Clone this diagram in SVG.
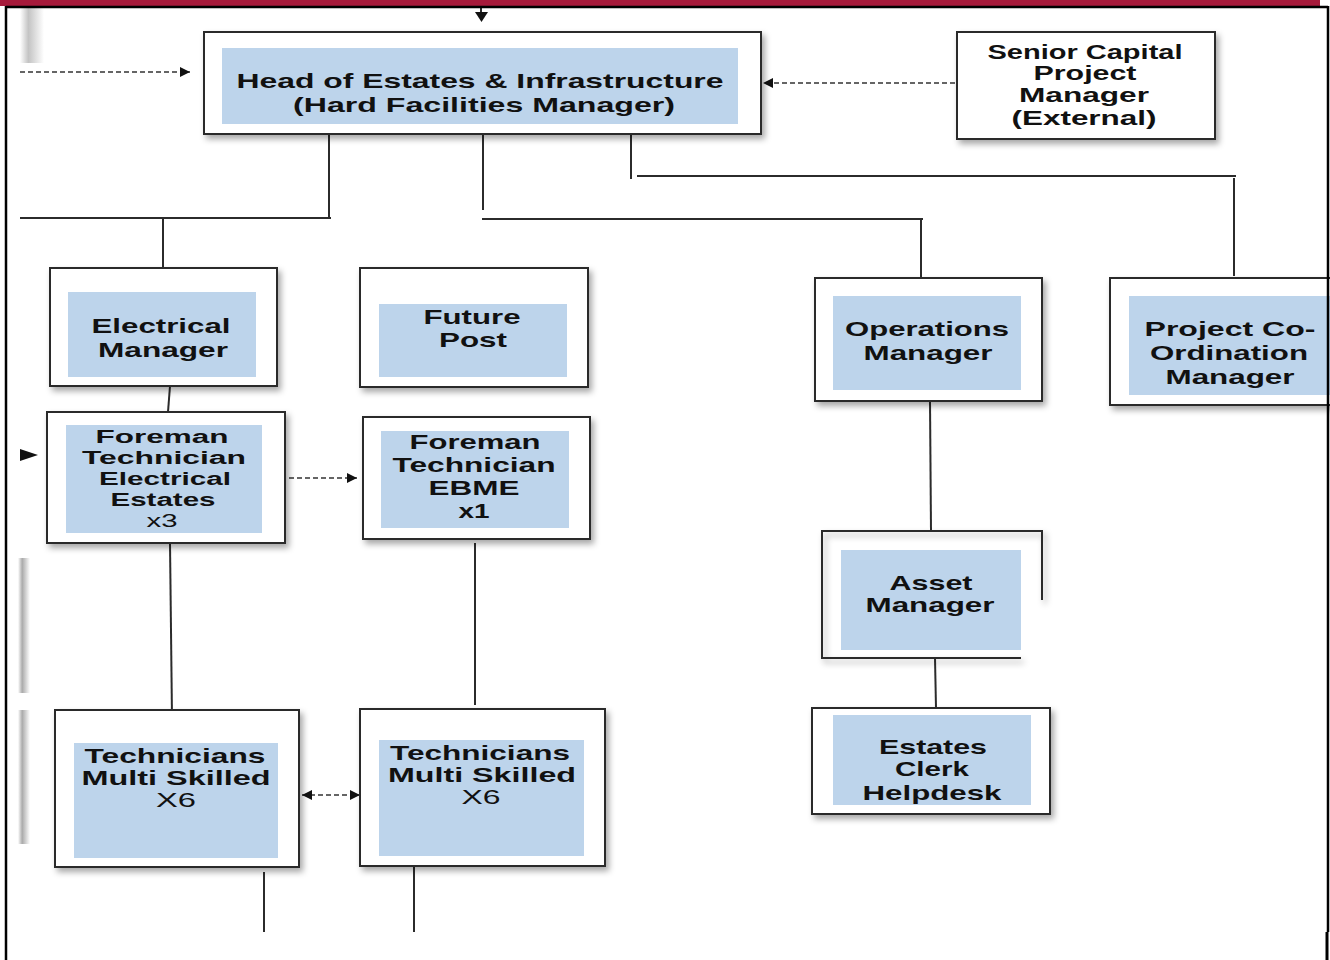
<svg xmlns="http://www.w3.org/2000/svg" width="1330" height="960" viewBox="0 0 1330 960">
<defs>
<style>
.box{fill:#fff;stroke:#2b2b2b;stroke-width:2;filter:url(#sh)}
.in{fill:#BDD4EB}
.t{font-family:"Liberation Sans",Arial,sans-serif;font-weight:bold;font-size:21px;fill:#111;text-anchor:middle}
.s{font-size:18px}
.n{font-weight:normal}
.ln{stroke:#2b2b2b;stroke-width:2;fill:none}
.ds{stroke:#333;stroke-width:1.6;fill:none;stroke-dasharray:5,3}
</style>
<filter id="sh" x="-10%" y="-10%" width="130%" height="130%">
<feDropShadow dx="3" dy="4" stdDeviation="3" flood-color="#000" flood-opacity="0.35"/>
</filter>
<marker id="ah" viewBox="0 0 10 10" refX="10" refY="5" markerWidth="14" markerHeight="10" markerUnits="userSpaceOnUse" orient="auto-start-reverse">
<path d="M0,0 L10,5 L0,10 z" fill="#111"/>
</marker>
<linearGradient id="gl" x1="0" x2="1" y1="0" y2="0">
<stop offset="0" stop-color="#fff"/>
<stop offset="0.35" stop-color="#aaa"/>
<stop offset="1" stop-color="#fff"/>
</linearGradient>
</defs>
<rect x="0" y="0" width="1330" height="960" fill="#fff"/>
<!-- ghost shadows on the left edge -->
<rect x="20" y="8" width="24" height="55" fill="url(#gl)" opacity="0.7"/>
<rect x="18" y="558" width="12" height="135" fill="url(#gl)"/>
<rect x="18" y="710" width="12" height="134" fill="url(#gl)"/>

<g id="connectors">
<path class="ln" d="M481,7 V13"/>
<path d="M475,12 L488,12 L481.5,22 z" fill="#111"/>
<path class="ds" d="M20,72 H190" marker-end="url(#ah)"/>
<path class="ds" d="M955,83 H763" marker-end="url(#ah)"/>
<path d="M20,449 L38,455 L20,461 z" fill="#111"/>
<path class="ln" d="M329,134 V218 M20,218 H331 M163,218 V268"/>
<path class="ln" d="M483,130 V210 M482,219 H923 M921,219 V277"/>
<path class="ln" d="M631,134 V179 M637,176 H1236 M1234,178 V276"/>
<path class="ln" d="M170,386 L168,412"/>
<path class="ln" d="M170,543 L172,718"/>
<path class="ln" d="M475,543 V705"/>
<path class="ds" d="M289,478 H357" marker-end="url(#ah)"/>
<path class="ds" d="M302,795 H360" marker-start="url(#ah)" marker-end="url(#ah)"/>
<path class="ln" d="M264,872 V932"/>
<path class="ln" d="M414,860 V932"/>
<path class="ln" d="M930,401 L931,531"/>
<path class="ln" d="M935,658 L936,708"/>
</g>

<g id="head">
<rect class="box" x="204" y="32" width="557" height="102"/>
<rect class="in" x="222" y="48" width="516" height="76"/>
<text class="t" x="480" y="88" font-size="22" textLength="487" lengthAdjust="spacingAndGlyphs">Head of Estates &amp; Infrastructure</text>
<text class="t" x="484" y="112" font-size="22" textLength="382" lengthAdjust="spacingAndGlyphs">(Hard Facilities Manager)</text>
</g>

<g id="senior">
<rect class="box" x="957" y="32" width="258" height="107"/>
<text class="t" x="1085" y="59" font-size="20" textLength="195" lengthAdjust="spacingAndGlyphs">Senior Capital</text>
<text class="t" x="1085" y="80" font-size="20" textLength="103" lengthAdjust="spacingAndGlyphs">Project</text>
<text class="t" x="1084" y="102" font-size="20" textLength="130" lengthAdjust="spacingAndGlyphs">Manager</text>
<text class="t" x="1084" y="125" font-size="20" textLength="145" lengthAdjust="spacingAndGlyphs">(External)</text>
</g>

<g id="electrical-manager">
<rect class="box" x="50" y="268" width="227" height="118"/>
<rect class="in" x="68" y="292" width="188" height="85"/>
<text class="t" x="161" y="333" textLength="139" lengthAdjust="spacingAndGlyphs">Electrical</text>
<text class="t" x="163" y="357" textLength="130" lengthAdjust="spacingAndGlyphs">Manager</text>
</g>

<g id="future-post">
<rect class="box" x="360" y="268" width="228" height="119"/>
<rect class="in" x="379" y="304" width="188" height="73"/>
<text class="t" x="472" y="324" textLength="97" lengthAdjust="spacingAndGlyphs">Future</text>
<text class="t" x="473" y="347" textLength="68" lengthAdjust="spacingAndGlyphs">Post</text>
</g>

<g id="foreman-electrical">
<rect class="box" x="47" y="412" width="238" height="131"/>
<rect class="in" x="66" y="425" width="196" height="108"/>
<text class="t s" x="162" y="443" textLength="133" lengthAdjust="spacingAndGlyphs">Foreman</text>
<text class="t s" x="164" y="464" textLength="164" lengthAdjust="spacingAndGlyphs">Technician</text>
<text class="t s" x="165" y="485" textLength="132" lengthAdjust="spacingAndGlyphs">Electrical</text>
<text class="t s" x="163" y="506" textLength="105" lengthAdjust="spacingAndGlyphs">Estates</text>
<text class="t s n" x="162" y="527" textLength="31" lengthAdjust="spacingAndGlyphs">x3</text>
</g>

<g id="foreman-ebme">
<rect class="box" x="363" y="417" width="227" height="122"/>
<rect class="in" x="381" y="431" width="188" height="97"/>
<text class="t" x="475" y="449" textLength="131" lengthAdjust="spacingAndGlyphs">Foreman</text>
<text class="t" x="474" y="472" textLength="163" lengthAdjust="spacingAndGlyphs">Technician</text>
<text class="t" x="474" y="495" textLength="91" lengthAdjust="spacingAndGlyphs">EBME</text>
<text class="t" x="474" y="518" textLength="31" lengthAdjust="spacingAndGlyphs">x1</text>
</g>

<g id="technicians-left">
<rect class="box" x="55" y="710" width="244" height="157"/>
<rect class="in" x="74" y="743" width="204" height="115"/>
<text class="t" x="175" y="763" textLength="181" lengthAdjust="spacingAndGlyphs">Technicians</text>
<text class="t" x="176" y="785" textLength="189" lengthAdjust="spacingAndGlyphs">Multi Skilled</text>
<text class="t n" x="176" y="807" textLength="40" lengthAdjust="spacingAndGlyphs">X6</text>
</g>

<g id="technicians-right">
<rect class="box" x="360" y="709" width="245" height="157"/>
<rect class="in" x="379" y="740" width="205" height="116"/>
<text class="t" x="480" y="760" textLength="180" lengthAdjust="spacingAndGlyphs">Technicians</text>
<text class="t" x="482" y="782" textLength="188" lengthAdjust="spacingAndGlyphs">Multi Skilled</text>
<text class="t n" x="481" y="804" textLength="39" lengthAdjust="spacingAndGlyphs">X6</text>
</g>

<g id="operations-manager">
<rect class="box" x="815" y="278" width="227" height="123"/>
<rect class="in" x="833" y="296" width="188" height="94"/>
<text class="t" x="927" y="336" textLength="164" lengthAdjust="spacingAndGlyphs">Operations</text>
<text class="t" x="928" y="360" textLength="129" lengthAdjust="spacingAndGlyphs">Manager</text>
</g>

<g id="asset-manager">
<rect x="822" y="531" width="220" height="127" fill="#fff"/>
<path d="M1042,600 V531 H822 V658 H1021" fill="none" stroke="#2b2b2b" stroke-width="2" filter="url(#sh)"/>
<rect class="in" x="841" y="550" width="180" height="100"/>
<text class="t" x="931" y="590" textLength="83" lengthAdjust="spacingAndGlyphs">Asset</text>
<text class="t" x="930" y="612" textLength="129" lengthAdjust="spacingAndGlyphs">Manager</text>
</g>

<g id="estates-clerk">
<rect class="box" x="812" y="708" width="238" height="106"/>
<rect class="in" x="833" y="715" width="198" height="90"/>
<text class="t" x="933" y="754" textLength="108" lengthAdjust="spacingAndGlyphs">Estates</text>
<text class="t" x="932" y="776" textLength="74" lengthAdjust="spacingAndGlyphs">Clerk</text>
<text class="t" x="932" y="800" textLength="139" lengthAdjust="spacingAndGlyphs">Helpdesk</text>
</g>

<g id="project-coordination">
<rect class="box" x="1110" y="278" width="240" height="127"/>
<rect class="in" x="1129" y="296" width="220" height="99"/>
<text class="t" x="1230" y="336" textLength="171" lengthAdjust="spacingAndGlyphs">Project Co-</text>
<text class="t" x="1229" y="360" textLength="158" lengthAdjust="spacingAndGlyphs">Ordination</text>
<text class="t" x="1230" y="384" textLength="129" lengthAdjust="spacingAndGlyphs">Manager</text>
</g>

<!-- frame -->
<rect x="0" y="0" width="1320" height="6" fill="#A61A3B"/>
<rect x="1320" y="0" width="10" height="6" fill="#fff"/>
<path d="M6,7 H1328 M6,6 V960 M1328,6 V932" stroke="#000" stroke-width="2.5" fill="none"/>
<path d="M1327,932 V960" stroke="#000" stroke-width="3" fill="none"/>
</svg>
